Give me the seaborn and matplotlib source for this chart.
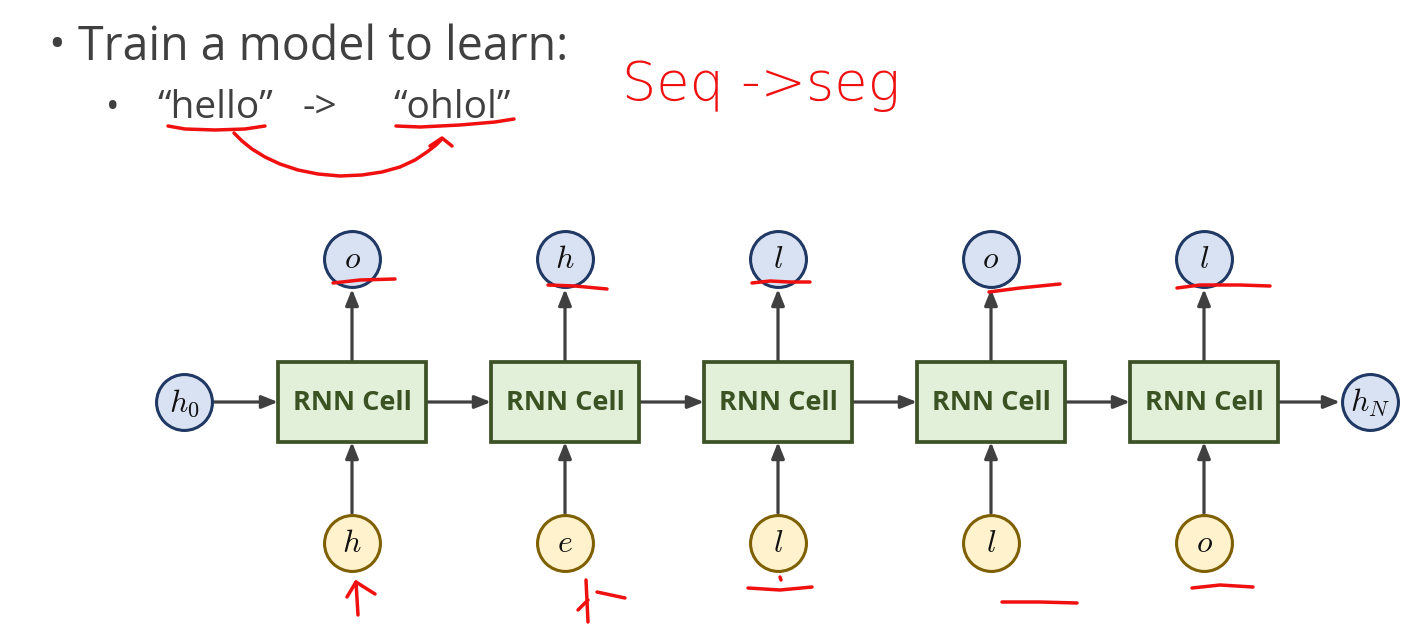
import matplotlib
matplotlib.use("Agg")
import matplotlib.pyplot as plt
import matplotlib.patches as mpatches
import seaborn as sns
import pandas as pd

# sequence data
cell_label = "RNN Cell"
input_chars = ["h", "e", "l", "l", "o"]
output_chars = ["o", "h", "l", "o", "l"]
h_start = "h_0"
h_end = "h_N"
title_line = "Train a model to learn:"
example_words = ["\u201chello\u201d", "->", "\u201cohlol\u201d"]
note_text = "Seq ->seg"

# red pen strokes (pixel coords of the slide)
pen_strokes = [
    ([168, 185, 215, 245, 265], [126, 129, 130, 129, 126]),
    ([396, 420, 460, 495, 514], [126, 127, 125, 122, 119]),
    ([234, 242, 252, 265, 280, 298, 318, 340, 362, 382, 400, 415, 427, 436, 442],
     [133, 141, 149, 157, 164, 170, 174, 176, 175, 172, 167, 160, 152, 145, 139]),
    ([430, 442, 452], [146, 138, 146]),
    ([333, 360, 395], [283, 280, 279]),
    ([548, 575, 607], [285, 286, 289]),
    ([752, 770, 790, 810], [283, 281, 282, 282]),
    ([989, 1020, 1060], [292, 288, 284]),
    ([1177, 1200, 1240, 1270], [288, 285, 285, 286]),
    ([358, 356], [615, 582]),
    ([347, 356, 375], [597, 582, 594]),
    ([588, 586], [622, 580]),
    ([578, 588], [610, 600]),
    ([597, 625], [592, 598]),
    ([748, 780, 812], [588, 590, 587]),
    ([780, 781], [577, 580]),
    ([1002, 1040, 1077], [602, 602, 603]),
    ([1192, 1220, 1253], [588, 585, 587]),
]

sns.set_theme(style="white")
plt.rcParams["font.family"] = ["Open Sans", "DejaVu Sans"]
plt.rcParams["mathtext.fontset"] = "cm"

W, H = 1411, 634
fig = plt.figure(figsize=(W / 100, H / 100), dpi=100)
ax = fig.add_axes([0, 0, 1, 1])

# layout
x0, dx = 352, 213
y_cell, y_out, y_in = 402, 259, 543
bw, bh, r = 148, 80, 29
xs = [x0 + i * dx for i in range(len(input_chars))]
xh0, xhN = 184, 1370

arrow_kw = dict(arrowstyle="-|>,head_length=0.8,head_width=0.32", color="#404040",
                lw=2.3, shrinkA=0, shrinkB=0)

def arrow(x1, y1, x2, y2):
    ax.annotate("", xy=(x2, y2), xytext=(x1, y1), arrowprops=arrow_kw)

# arrows
arrow(xh0 + r, y_cell, xs[0] - bw / 2, y_cell)
for i, x in enumerate(xs):
    arrow(x, y_cell - bh / 2, x, y_out + r + 1)
    arrow(x, y_in - r - 1, x, y_cell + bh / 2)
    if i + 1 < len(xs):
        arrow(x + bw / 2, y_cell, xs[i + 1] - bw / 2, y_cell)
arrow(xs[-1] + bw / 2, y_cell, xhN - r - 1, y_cell)

# cells
for x in xs:
    ax.add_patch(mpatches.Rectangle((x - bw / 2, y_cell - bh / 2), bw, bh,
                                    facecolor="#e2efd9", edgecolor="#3d5226", lw=2.7, zorder=3))
    ax.text(x, y_cell + 1, cell_label, ha="center", va="center", fontsize=19.5,
            fontweight="bold", color="#3b5323", zorder=4)

# nodes
nodes = pd.DataFrame({
    "x": xs + xs + [xh0, xhN],
    "y": [y_out] * 5 + [y_in] * 5 + [y_cell, y_cell],
    "kind": ["state"] * 5 + ["input"] * 5 + ["state", "state"],
    "label": output_chars + input_chars + [h_start, h_end],
})
face = {"state": "#d9e2f3", "input": "#fff2cc"}
edge = {"state": "#203864", "input": "#7f6000"}
for kind, grp in nodes.groupby("kind"):
    sns.scatterplot(data=grp, x="x", y="y", s=1620, color=face[kind],
                    edgecolor=edge[kind], linewidth=2.2, ax=ax, zorder=5, legend=False)
for _, row in nodes.iterrows():
    ax.text(row.x, row.y + 1, f"${row.label}$", ha="center", va="center",
            fontsize=23, color="#111111", zorder=6)

# slide text
ax.text(48, 58, "\u2022", fontsize=32, color="#404040", va="baseline")
ax.text(78, 60, title_line, fontsize=33.5, color="#404040", va="baseline")
ax.text(106, 118, "\u2022", fontsize=26, color="#404040", va="baseline")
for wx, word in zip([157, 303, 393], example_words):
    ax.text(wx, 118, word, fontsize=28, color="#404040", va="baseline")

# red pen notes
for px, py in pen_strokes:
    sns.lineplot(x=px, y=py, sort=False, estimator=None, color="#f01010",
                 lw=2.5, ax=ax, zorder=8)
ax.text(622, 100, note_text, fontsize=39, color="#f01010", va="baseline",
        family="DejaVu Sans", fontweight="light")

ax.set_xlim(0, W)
ax.set_ylim(H, 0)
ax.axis("off")

fig.savefig("out.png", dpi=100)
